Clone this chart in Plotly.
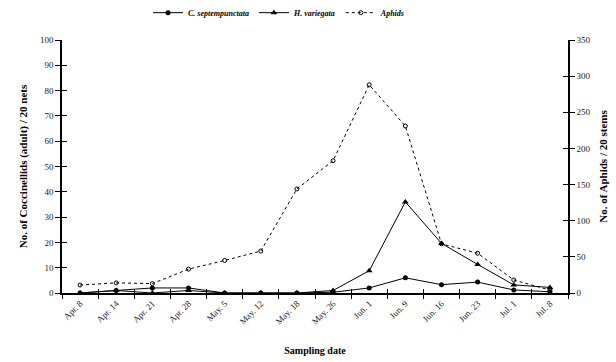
import plotly.graph_objects as go

dates = ["Apr. 8", "Apr. 14", "Apr. 21", "Apr. 28", "May. 5", "May. 12", "May. 18",
         "May. 26", "Jun. 1", "Jun. 9", "Jun. 16", "Jun. 23", "Jul. 1", "Jul. 8"]
c_sept = [0, 1, 2, 2, 0, 0, 0, 0.3, 2, 6, 3.3, 4.3, 1.2, 0.5]
h_vari = [0, 1, 0, 1, 0, 0, 0, 1, 8.8, 36, 19.6, 11.3, 3.2, 2.2]
aphids = [11, 14, 13, 33, 45, 58, 144, 183, 288, 231, 68, 55, 18, 4]

FONT = "Liberation Serif"

fig = go.Figure()
fig.add_trace(go.Scatter(
    x=dates, y=c_sept, name="<b><i>C. septempunctata</i></b>", mode="lines+markers",
    line=dict(color="black", width=1), marker=dict(symbol="circle", size=5, color="black"),
    yaxis="y"))
fig.add_trace(go.Scatter(
    x=dates, y=h_vari, name="<b><i>H. variegata</i></b>", mode="lines+markers",
    line=dict(color="black", width=1), marker=dict(symbol="triangle-up", size=6, color="black"),
    yaxis="y"))
fig.add_trace(go.Scatter(
    x=dates, y=aphids, name="<b><i>Aphids</i></b>", mode="lines+markers",
    line=dict(color="black", width=1, dash="dot"),
    marker=dict(symbol="circle-open", size=4, color="black", line=dict(width=1)),
    yaxis="y2"))

tickfont = dict(family=FONT, size=9, color="#222")

fig.update_layout(
    width=616, height=362,
    margin=dict(l=62, r=48, t=40, b=69, autoexpand=False),
    plot_bgcolor="white", paper_bgcolor="white",
    font=dict(family=FONT, color="black"),
    showlegend=True,
    legend=dict(orientation="h", x=0.17, xanchor="left", yref="container",
                y=0.965, yanchor="middle",
                font=dict(family=FONT, size=8, color="black"), itemwidth=30,
                tracegroupgap=0, bgcolor="rgba(0,0,0,0)"),
    xaxis=dict(type="category", range=[-0.5, 13.5], tickson="boundaries",
               ticks="outside", ticklen=4, tickcolor="black", tickwidth=1,
               showline=True, linecolor="black", linewidth=1.5,
               tickangle=-45, tickfont=tickfont, showgrid=False, zeroline=False,
               title=dict(text="<b>Sampling date</b>", font=dict(family=FONT, size=10), standoff=22)),
    xaxis2=dict(type="category", range=[-0.5, 13.5], overlaying="x", anchor="y",
                tickson="boundaries", ticks="inside", ticklen=4, tickcolor="black",
                showticklabels=False, showgrid=False, zeroline=False, showline=False),
    yaxis=dict(range=[0, 100], dtick=10, ticks="outside", ticklen=5, tickcolor="black",
               showline=True, linecolor="black", linewidth=1.5, showgrid=False, zeroline=False,
               tickfont=tickfont,
               title=dict(text="<b>No. of Coccinellids (adult) / 20 nets</b>",
                          font=dict(family=FONT, size=11), standoff=10)),
    yaxis2=dict(range=[0, 350], dtick=50, side="right", overlaying="y", anchor="x",
                ticks="outside", ticklen=5, tickcolor="black",
                showline=True, linecolor="black", linewidth=1.5, showgrid=False, zeroline=False,
                tickfont=tickfont,
                title=dict(text="<b>No. of Aphids / 20 stems</b>",
                           font=dict(family=FONT, size=11), standoff=10)),
    yaxis3=dict(range=[0, 100], dtick=10, overlaying="y", anchor="x", ticks="inside",
                ticklen=5, tickcolor="black", showticklabels=False, showgrid=False,
                zeroline=False, showline=False),
    yaxis4=dict(range=[0, 350], dtick=50, overlaying="y", side="right", anchor="x",
                ticks="inside", ticklen=5, tickcolor="black", showticklabels=False,
                showgrid=False, zeroline=False, showline=False),
)

# invisible helper traces to activate the crossing-tick axes
fig.add_trace(go.Scatter(x=dates, y=[None] * len(dates), xaxis="x2", yaxis="y3",
                         showlegend=False, hoverinfo="skip"))
fig.add_trace(go.Scatter(x=[dates[0]], y=[None], yaxis="y4",
                         showlegend=False, hoverinfo="skip"))

fig.write_html("out.html")
